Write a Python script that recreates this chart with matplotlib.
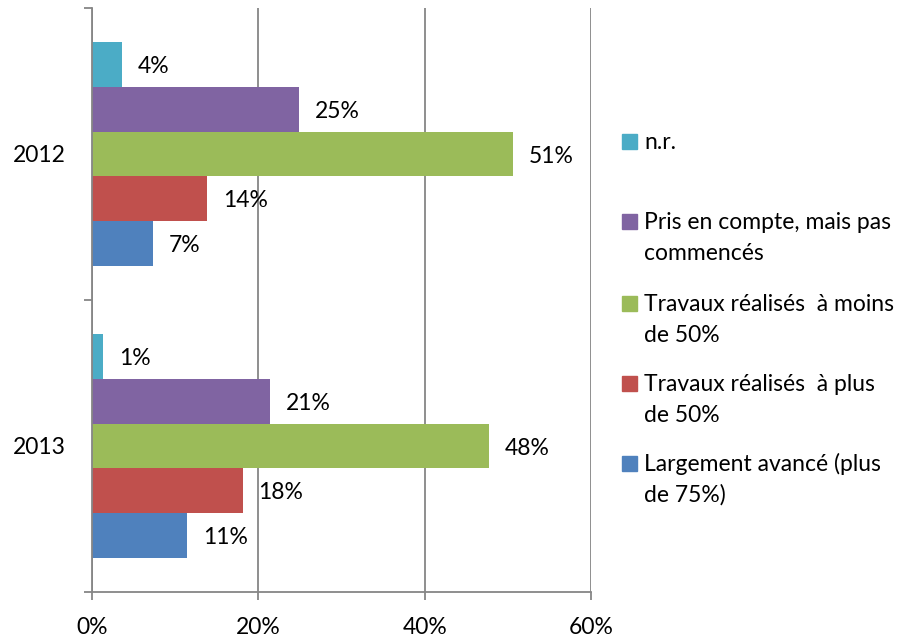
import matplotlib
matplotlib.use('Agg')
import matplotlib.pyplot as plt
from matplotlib.patches import Rectangle
import numpy as np

plt.rcParams['font.family'] = ['Lato', 'DejaVu Sans']

years = ['2012', '2013']
series = ['n.r.',
          'Pris en compte, mais pas\ncommencés',
          'Travaux réalisés  à moins\nde 50%',
          'Travaux réalisés  à plus\nde 50%',
          'Largement avancé (plus\nde 75%)']
colors = ['#4BACC6', '#8064A2', '#9BBB59', '#C0504D', '#4F81BD']
# percentages, per series: [2012, 2013]
nr = [3.6, 1.3]
pris = [24.9, 21.4]
moins50 = [50.6, 47.7]
plus50 = [13.8, 18.1]
avance = [7.3, 11.4]
values = [nr, pris, moins50, plus50, avance]

W, H = 916, 637
fig = plt.figure(figsize=(W / 100, H / 100), dpi=100)
ax = fig.add_axes([92 / W, 1 - 592 / H, (591 - 92) / W, (592 - 8) / H])

fs = 16.5
grey = '#868686'
bh = 0.1534
centers = {'2012': 1.5, '2013': 0.5}
for i, (vals, col) in enumerate(zip(values, colors)):
    for yr, v in zip(years, vals):
        y = centers[yr] + (2 - i) * bh
        ax.barh(y, v, height=bh, color=col, edgecolor='none', zorder=3)
        ax.annotate('%d%%' % round(v), (v, y), xytext=(11.5, -1.5), textcoords='offset points',
                    va='center', ha='left', fontsize=fs, color='black')

ax.set_xlim(0, 60)
ax.set_ylim(0, 2)
ax.set_xticks([0, 20, 40, 60])
ax.set_xticklabels(['0%', '20%', '40%', '60%'], fontsize=fs)
ax.set_yticks([0, 1, 2])
ax.set_yticklabels([])
ax.set_yticks([centers[y] for y in years], minor=True)
ax.set_yticklabels(years, minor=True, fontsize=fs)
ax.tick_params(axis='y', which='minor', length=0, pad=19)
ax.tick_params(axis='y', which='major', length=6, width=1.3, color=grey)
ax.tick_params(axis='x', length=6, width=1.3, color=grey, pad=12)
ax.xaxis.grid(True, color=grey, linewidth=1.3, zorder=0)
for s in ['top', 'right']:
    ax.spines[s].set_visible(False)
for s in ['left', 'bottom']:
    ax.spines[s].set_color(grey)
    ax.spines[s].set_linewidth(1.3)
    ax.spines[s].set_zorder(4)

# legend, drawn by hand to keep Excel spacing
leg_base = [149, 229, 311, 391, 471]
line_h = 31
for lab, col, yb in zip(series, colors, leg_base):
    fig.patches.append(Rectangle((622 / W, 1 - yb / H), 15 / W, 15 / H,
                                 transform=fig.transFigure, color=col))
    for k, line in enumerate(lab.split('\n')):
        fig.text(644 / W, 1 - (yb + k * line_h) / H, line, fontsize=fs,
                 va='baseline', ha='left')

fig.savefig('out.png', dpi=100)
